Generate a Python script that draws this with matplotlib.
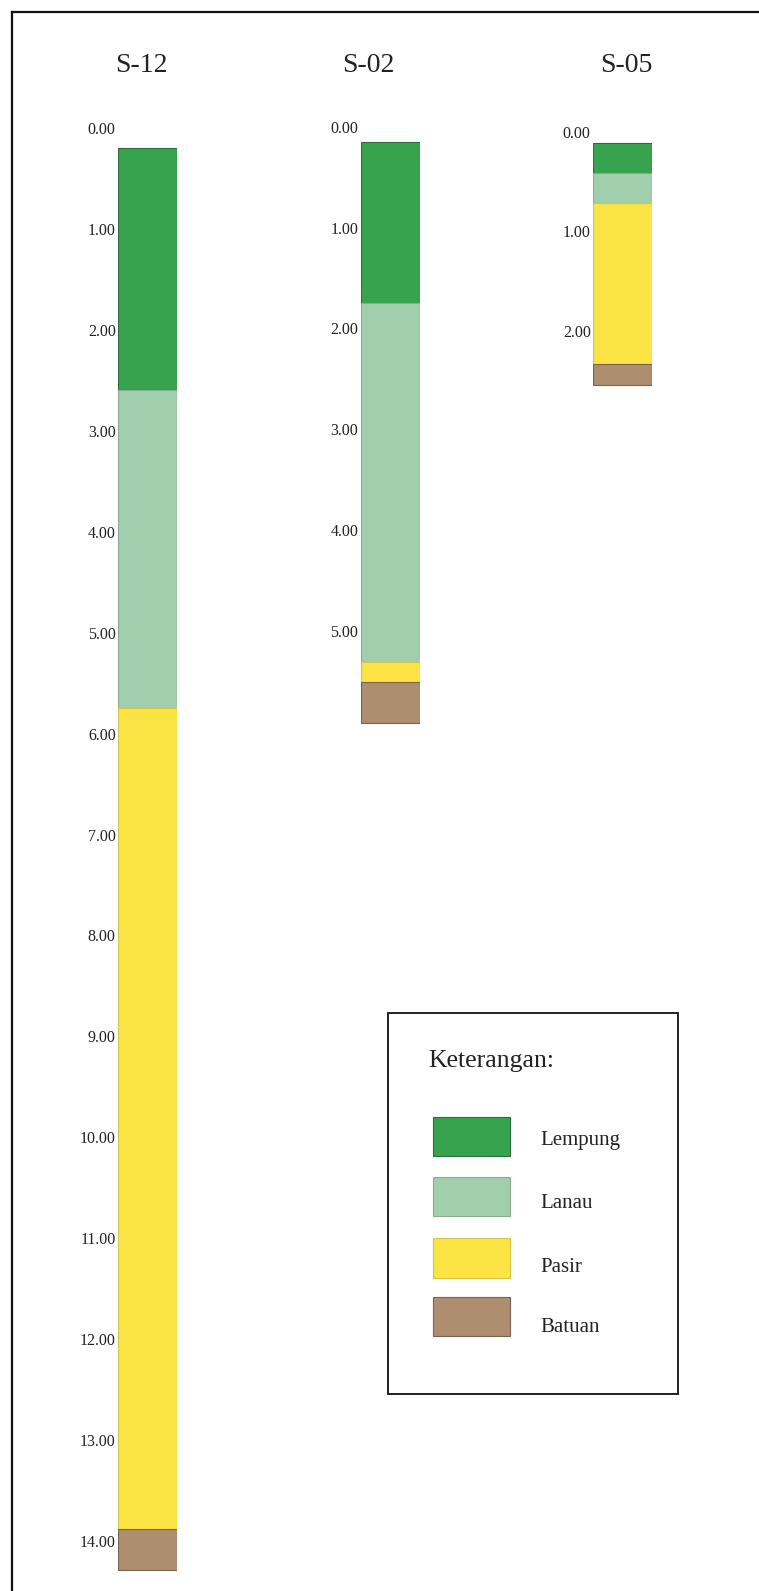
import matplotlib
matplotlib.use("Agg")
import matplotlib.pyplot as plt
from matplotlib.patches import Rectangle
from matplotlib.lines import Line2D

plt.rcParams['font.family'] = ['Liberation Serif', 'DejaVu Serif']

# ---------------- data ----------------
boreholes = ["S-12", "S-02", "S-05"]
soil_types = ["Lempung", "Lanau", "Pasir", "Batuan"]
soil_colors = ["#38a34f", "#a1cfad", "#fbe443", "#ad8e6f"]
soil_edges = ["#2b6e3a", "#8aab93", "#d8c445", "#7a6450"]

s12_tops = [0.20, 2.59, 5.75, 13.88]
s12_bottoms = [2.59, 5.75, 13.88, 14.29]
s12_types = ["Lempung", "Lanau", "Pasir", "Batuan"]
s12_ticks = [float(v) for v in range(0, 15)]

s02_tops = [0.155, 1.75, 5.31, 5.51]
s02_bottoms = [1.75, 5.31, 5.51, 5.92]
s02_types = ["Lempung", "Lanau", "Pasir", "Batuan"]
s02_ticks = [0.0, 1.0, 2.0, 3.0, 4.0, 5.0]

s05_tops = [0.11, 0.42, 0.72, 2.33]
s05_bottoms = [0.42, 0.72, 2.33, 2.55]
s05_types = ["Lempung", "Lanau", "Pasir", "Batuan"]
s05_ticks = [0.0, 1.0, 2.0]

legend_title = "Keterangan:"

# ---------------- layout (pixels) ----------------
W, H = 759, 1591
fig = plt.figure(figsize=(W / 100, H / 100), dpi=100)

columns = [
    # (tops, bottoms, types, ticks, x_left, width, y0 of depth 0, px per m, title x)
    (s12_tops, s12_bottoms, s12_types, s12_ticks, 117.8, 58.7, 128.3, 100.9, 141.0),
    (s02_tops, s02_bottoms, s02_types, s02_ticks, 360.5, 59.3, 126.7, 100.8, 368.0),
    (s05_tops, s05_bottoms, s05_types, s05_ticks, 592.8, 59.4, 131.7, 99.5, 626.0),
]

text_color = "#222222"

for name, (tops, bottoms, types, ticks, xl, wd, y0, s, tx) in zip(boreholes, columns):
    ax = fig.add_axes([xl / W, 0, wd / W, 1])
    ax.set_xlim(0, 1)
    ax.set_ylim((H - y0) / s, -y0 / s)
    for t, b, typ in zip(tops, bottoms, types):
        i = soil_types.index(typ)
        ax.bar(0.5, b - t, bottom=t, width=1.0, color=soil_colors[i],
               edgecolor=soil_edges[i], linewidth=0.8, align='center')
    ax.set_yticks(ticks)
    ax.set_yticklabels([f"{v:.2f}" for v in ticks])
    ax.tick_params(axis='y', length=0, pad=1.5, labelsize=11.5, labelcolor=text_color)
    ax.set_xticks([])
    for sp in ax.spines.values():
        sp.set_visible(False)
    ax.patch.set_alpha(0)
    fig.text(tx / W, 1 - 65 / H, name, ha='center', va='center',
             fontsize=20, color=text_color)

# ---------------- legend ----------------
def fx(px):
    return px / W

def fy(py):
    return 1 - py / H

bx0, bx1, by0, by1 = 388.3, 677.7, 1013.3, 1394.3
fig.patches.append(Rectangle((fx(bx0), fy(by1)), fx(bx1) - fx(bx0), fy(by0) - fy(by1),
                             transform=fig.transFigure, facecolor='white',
                             edgecolor='#111111', linewidth=1.3))
fig.text(fx(428), fy(1061), legend_title, ha='left', va='center',
         fontsize=18.5, color=text_color)

sw_x0, sw_x1 = 432.7, 510.0
sw_rows = [(1117.3, 1156.0, 1140.0), (1177.3, 1216.0, 1203.0),
           (1238.3, 1277.7, 1268.0), (1297.3, 1336.0, 1328.0)]
for i, (y_top, y_bot, y_lab) in enumerate(sw_rows):
    fig.patches.append(Rectangle((fx(sw_x0), fy(y_bot)), fx(sw_x1) - fx(sw_x0),
                                 fy(y_top) - fy(y_bot), transform=fig.transFigure,
                                 facecolor=soil_colors[i], edgecolor=soil_edges[i],
                                 linewidth=0.8))
    fig.text(fx(540), fy(y_lab), soil_types[i], ha='left', va='center',
             fontsize=15, color=text_color)

# ---------------- frame ----------------
fig.lines.append(Line2D([fx(12), fx(12)], [fy(12), 0], transform=fig.transFigure,
                        color='#111111', linewidth=1.6))
fig.lines.append(Line2D([fx(12), 1], [fy(12), fy(12)], transform=fig.transFigure,
                        color='#111111', linewidth=1.6))

fig.savefig("out.png", dpi=100, facecolor='white')
